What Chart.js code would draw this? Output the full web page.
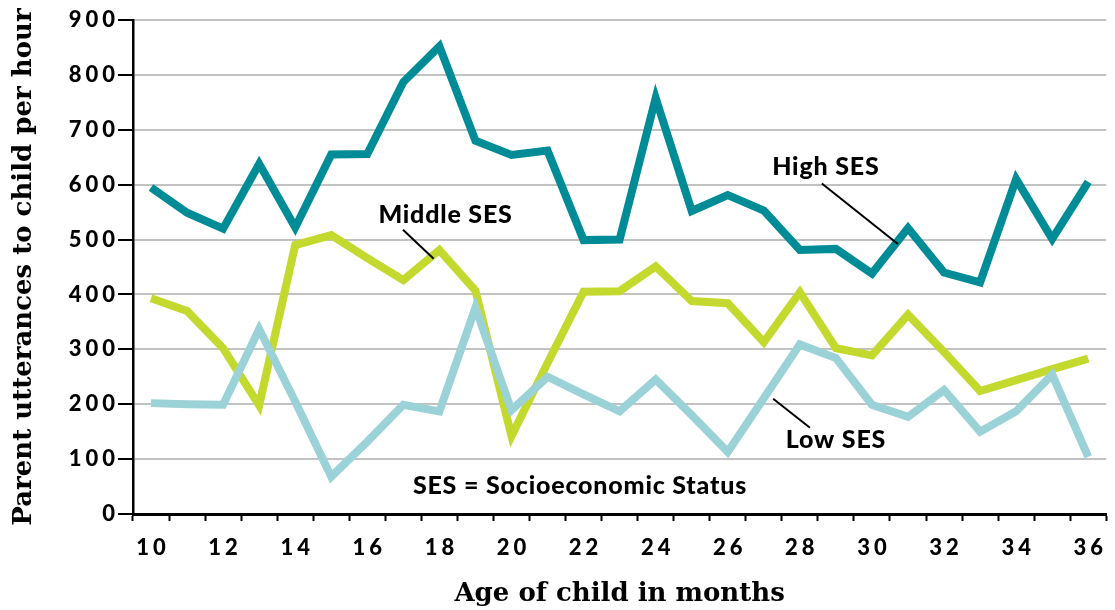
<!DOCTYPE html>
<html><head><meta charset="utf-8">
<script src="https://cdn.jsdelivr.net/npm/chart.js@4.4.1/dist/chart.umd.min.js"></script>
<style>html,body{margin:0;padding:0;background:#fff;overflow:hidden;}</style>
</head><body>
<canvas id="c" width="1115" height="610"></canvas>
<script>
// ---- data ----
const months = ['10','11','12','13','14','15','16','17','18','19','20','21','22','23','24','25','26','27','28','29','30','31','32','33','34','35','36'];
const xTickLabels = ['10','12','14','16','18','20','22','24','26','28','30','32','34','36'];
const yTickValues = [0,100,200,300,400,500,600,700,800,900];
const highSES   = [595,549,520,638,522,655,656,787,852,680,654,662,499,500,758,552,581,553,481,483,438,521,440,422,610,501,605];
const middleSES = [393,370,302,198,490,508,466,426,481,407,142,275,405,406,451,388,384,313,404,302,289,363,295,224,244,264,283];
const lowSES    = [202,200,199,337,205,68,132,199,187,376,189,250,218,187,245,180,113,211,309,284,199,177,226,150,187,254,104];
const seriesNames = ['High SES','Middle SES','Low SES'];

// ---- annotations (in data coordinates: category index, value) ----
const labelNotes = [
  {text:'Middle SES', x:8.17, y:545},
  {text:'High SES', x:18.72, y:633},
  {text:'Low SES', x:19.0, y:135},
  {text:'SES = Socioeconomic Status', x:11.9, y:51}
];
const leaderLines = [
  {x1:6.99, y1:518, x2:7.84, y2:465},
  {x1:18.61, y1:602, x2:20.72, y2:492},
  {x1:17.26, y1:210, x2:18.28, y2:157}
];

const notesPlugin = {
  id: 'notes',
  afterUpdate(chart) {
    ['x','y'].forEach(id => {
      const s = chart.scales[id];
      if (s && !s._lsPatched) {
        const orig = s.drawLabels.bind(s);
        s.drawLabels = function(ca) {
          const ctx = chart.ctx;
          ctx.save();
          ctx.letterSpacing = '4px';
          if (id === 'x') ctx.translate(2, 0);
          else ctx.translate(3, 0);
          orig(ca);
          ctx.restore();
        };
        s._lsPatched = true;
      }
    });
  },
  afterDatasetsDraw(chart) {
    const ctx = chart.ctx, xs = chart.scales.x, ys = chart.scales.y;
    ctx.save();
    ctx.strokeStyle = '#000';
    ctx.lineWidth = 2;
    leaderLines.forEach(l => {
      ctx.beginPath();
      ctx.moveTo(xs.getPixelForValue(l.x1), ys.getPixelForValue(l.y1));
      ctx.lineTo(xs.getPixelForValue(l.x2), ys.getPixelForValue(l.y2));
      ctx.stroke();
    });
    ctx.fillStyle = '#000';
    ctx.font = '900 25px Lato';
    ctx.letterSpacing = '0.8px';
    ctx.textAlign = 'center';
    ctx.textBaseline = 'middle';
    labelNotes.forEach(n => {
      ctx.fillText(n.text, xs.getPixelForValue(n.x), ys.getPixelForValue(n.y));
    });
    ctx.restore();
  }
};

const lineStyle = {borderWidth: 8, pointRadius: 0, tension: 0, borderJoinStyle: 'miter', borderCapStyle: 'butt', fill: false};

new Chart(document.getElementById('c'), {
  type: 'line',
  data: {
    labels: months,
    datasets: [
      Object.assign({label: seriesNames[0], data: highSES, borderColor: '#008C96', order: 1}, lineStyle),
      Object.assign({label: seriesNames[1], data: middleSES, borderColor: '#C3D92E', order: 2}, lineStyle),
      Object.assign({label: seriesNames[2], data: lowSES, borderColor: '#9BD2D7', order: 0}, lineStyle)
    ]
  },
  options: {
    responsive: false,
    animation: false,
    layout: {padding: {top: 20, right: 0, left: 0, bottom: 0}},
    plugins: {legend: {display: false}, tooltip: {enabled: false}},
    scales: {
      x: {
        type: 'category',
        offset: true,
        afterFit(s) { s.height = 96; },
        grid: {display: true, drawOnChartArea: false, offset: true, drawTicks: true, tickLength: 7, tickColor: '#000', tickWidth: 2},
        border: {display: true, color: '#000', width: 3},
        ticks: {
          autoSkip: false, maxRotation: 0, minRotation: 0, padding: 14,
          color: '#000', font: {family: 'Lato', weight: '900', size: 22},
          callback(v, i) { const l = months[i]; return xTickLabels.includes(l) ? l : ''; }
        },
        title: {display: true, text: 'Age of child in months', color: '#000',
          font: {family: 'DejaVu Serif', weight: 'bold', size: 26}, padding: {top: 0, bottom: 0}}
      },
      y: {
        min: 0, max: 900,
        afterFit(s) { s.width = 133; },
        afterBuildTicks(s) { s.ticks = yTickValues.map(v => ({value: v})); },
        grid: {color: '#C2C2C2', lineWidth: 2, drawTicks: true, tickLength: 15, tickColor: '#000', tickWidth: 2},
        border: {display: true, color: '#000', width: 2.5},
        ticks: {padding: 2, color: '#000', font: {family: 'Lato', weight: '900', size: 22}},
        title: {display: true, text: 'Parent utterances to child per hour', color: '#000',
          font: {family: 'DejaVu Serif', weight: 'bold', size: 26}, padding: {top: 9, bottom: 0}}
      }
    }
  },
  plugins: [notesPlugin]
});
</script>
</body></html>
